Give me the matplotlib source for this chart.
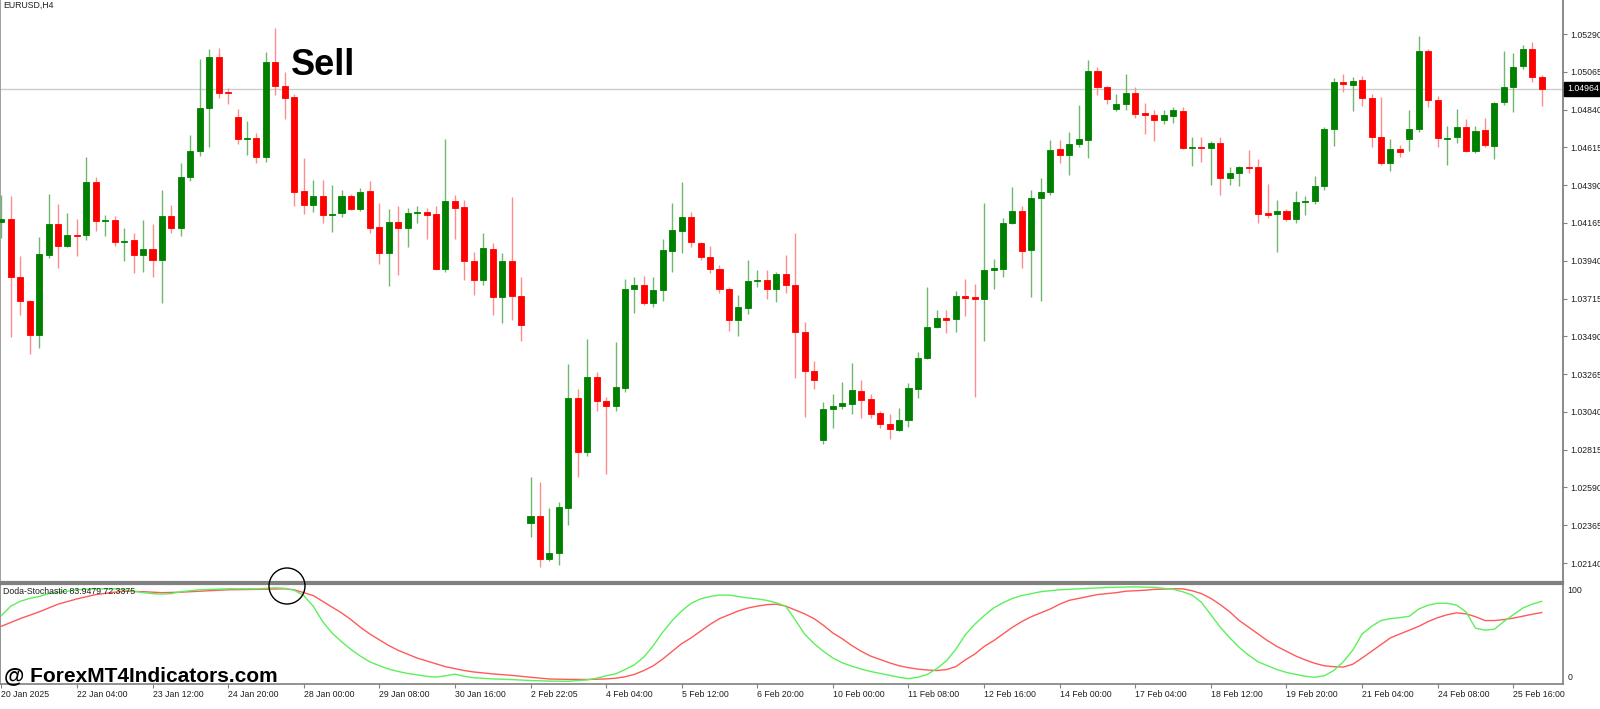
import matplotlib
matplotlib.use("Agg")
import matplotlib.pyplot as plt
import matplotlib.transforms as mtransforms
from matplotlib.patches import Ellipse
import numpy as np

plt.rcParams['font.family'] = ['Liberation Sans', 'DejaVu Sans']

chart_title = "EURUSD,H4"
indicator_title = "Doda-Stochastic 83.9479 72.3375"
sell_label = "Sell"
watermark = "@ ForexMT4Indicators.com"

# ---- H4 candles (prices) ----
open_ = [1.04170, 1.04188, 1.03842, 1.03700, 1.03497, 1.03973, 1.04158, 1.04027, 1.04093, 1.04093,
         1.04408, 1.04176, 1.04182, 1.04051, 1.04063, 1.03973, 1.04009, 1.03944, 1.04206, 1.04134,
         1.04438, 1.04593, 1.04849, 1.05153, 1.04944, 1.04795, 1.04664, 1.04670, 1.04557, 1.05123,
         1.04980, 1.04914, 1.04355, 1.04271, 1.04325, 1.04212, 1.04224, 1.04325, 1.04247, 1.04355,
         1.04140, 1.03985, 1.04170, 1.04134, 1.04224, 1.04230, 1.04218, 1.03890, 1.04295, 1.04259,
         1.03938, 1.03825, 1.04009, 1.03723, 1.03938, 1.03729, 1.02378, 1.02419, 1.02163, 1.02199,
         1.02467, 1.03122, 1.02800, 1.03247, 1.03104, 1.03074, 1.03181, 1.03771, 1.03795, 1.03688,
         1.03765, 1.03997, 1.04116, 1.04200, 1.04045, 1.03962, 1.03890, 1.03771, 1.03586, 1.03658,
         1.03819, 1.03825, 1.03771, 1.03860, 1.03795, 1.03515, 1.03283, 1.02872, 1.03056, 1.03074,
         1.03086, 1.03164, 1.03116, 1.03033, 1.02967, 1.02931, 1.02991, 1.03175, 1.03360, 1.03545,
         1.03598, 1.03592, 1.03729, 1.03723, 1.03711, 1.03884, 1.03890, 1.04164, 1.04235, 1.04003,
         1.04313, 1.04349, 1.04605, 1.04569, 1.04635, 1.04658, 1.05069, 1.04974, 1.04843, 1.04873,
         1.04938, 1.04819, 1.04807, 1.04777, 1.04801, 1.04831, 1.04611, 1.04617, 1.04611, 1.04640,
         1.04432, 1.04462, 1.04498, 1.04498, 1.04224, 1.04218, 1.04235, 1.04188, 1.04289, 1.04295,
         1.04384, 1.04724, 1.05004, 1.04986, 1.05016, 1.04908, 1.04676, 1.04521, 1.04605, 1.04664,
         1.04724, 1.05188, 1.04897, 1.04667, 1.04676, 1.04736, 1.04593, 1.04718, 1.04623, 1.04885,
         1.04974, 1.05099, 1.05200, 1.05033]
high = [1.04331, 1.04325, 1.03967, 1.03705, 1.04081, 1.04337, 1.04277, 1.04224, 1.04188, 1.04557,
        1.04438, 1.04212, 1.04206, 1.04134, 1.04105, 1.04182, 1.04158, 1.04361, 1.04271, 1.04521,
        1.04688, 1.05141, 1.05200, 1.05206, 1.04968, 1.04843, 1.04771, 1.04700, 1.05182, 1.05325,
        1.05063, 1.04932, 1.04551, 1.04420, 1.04420, 1.04390, 1.04361, 1.04337, 1.04373, 1.04414,
        1.04283, 1.04247, 1.04265, 1.04253, 1.04265, 1.04253, 1.04265, 1.04664, 1.04331, 1.04301,
        1.03991, 1.04105, 1.04045, 1.03985, 1.04319, 1.03842, 1.02652, 1.02622, 1.02467, 1.02503,
        1.03324, 1.03175, 1.03473, 1.03277, 1.03128, 1.03455, 1.03831, 1.03842, 1.03848, 1.03842,
        1.04069, 1.04283, 1.04408, 1.04230, 1.04051, 1.04027, 1.03914, 1.03783, 1.03735, 1.03944,
        1.03884, 1.03884, 1.03872, 1.03973, 1.04105, 1.03574, 1.03342, 1.03098, 1.03146, 1.03217,
        1.03330, 1.03229, 1.03146, 1.03044, 1.03027, 1.03062, 1.03211, 1.03396, 1.03783, 1.03646,
        1.03646, 1.03759, 1.03831, 1.03801, 1.04283, 1.03950, 1.04194, 1.04378, 1.04265, 1.04361,
        1.04432, 1.04658, 1.04658, 1.04706, 1.04867, 1.05135, 1.05093, 1.04980, 1.04932, 1.05051,
        1.04974, 1.04879, 1.04837, 1.04837, 1.04855, 1.04855, 1.04676, 1.04676, 1.04652, 1.04676,
        1.04498, 1.04504, 1.04599, 1.04545, 1.04396, 1.04301, 1.04247, 1.04355, 1.04325, 1.04444,
        1.04736, 1.05028, 1.05051, 1.05033, 1.05039, 1.04932, 1.04914, 1.04664, 1.04628, 1.04837,
        1.05278, 1.05200, 1.04920, 1.04742, 1.04843, 1.04783, 1.04742, 1.04789, 1.04885, 1.05188,
        1.05176, 1.05224, 1.05242, 1.05045]
low = [1.04075, 1.03485, 1.03616, 1.03384, 1.03420, 1.03956, 1.03896, 1.04021, 1.03967, 1.04063,
       1.04116, 1.04087, 1.04027, 1.03938, 1.03866, 1.03872, 1.03842, 1.03688, 1.04105, 1.04087,
       1.04414, 1.04563, 1.04617, 1.04908, 1.04873, 1.04635, 1.04569, 1.04521, 1.04527, 1.04926,
       1.04783, 1.04265, 1.04218, 1.04230, 1.04164, 1.04110, 1.04200, 1.04241, 1.04235, 1.04105,
       1.03920, 1.03789, 1.03854, 1.04021, 1.04164, 1.04069, 1.03884, 1.03872, 1.04069, 1.03825,
       1.03735, 1.03795, 1.03616, 1.03569, 1.03586, 1.03461, 1.02294, 1.02115, 1.02151, 1.02127,
       1.02366, 1.02652, 1.02776, 1.03044, 1.02669, 1.03044, 1.03158, 1.03628, 1.03676, 1.03664,
       1.03700, 1.03872, 1.03985, 1.04021, 1.03944, 1.03866, 1.03747, 1.03521, 1.03491, 1.03622,
       1.03783, 1.03711, 1.03694, 1.03747, 1.03241, 1.03009, 1.03175, 1.02848, 1.02943, 1.03056,
       1.03027, 1.03003, 1.03003, 1.02943, 1.02878, 1.02925, 1.02949, 1.03122, 1.03354, 1.03539,
       1.03509, 1.03515, 1.03610, 1.03128, 1.03461, 1.03771, 1.03842, 1.04158, 1.03896, 1.03723,
       1.03700, 1.04331, 1.04521, 1.04450, 1.04617, 1.04551, 1.04926, 1.04873, 1.04831, 1.04837,
       1.04789, 1.04694, 1.04652, 1.04754, 1.04760, 1.04605, 1.04504, 1.04527, 1.04390, 1.04331,
       1.04390, 1.04384, 1.04462, 1.04164, 1.04194, 1.03991, 1.04176, 1.04164, 1.04212, 1.04277,
       1.04361, 1.04623, 1.04944, 1.04831, 1.04861, 1.04617, 1.04509, 1.04474, 1.04557, 1.04593,
       1.04706, 1.04855, 1.04617, 1.04509, 1.04640, 1.04587, 1.04581, 1.04617, 1.04545, 1.04867,
       1.04825, 1.05081, 1.05004, 1.04861]
close = [1.04188, 1.03842, 1.03700, 1.03497, 1.03979, 1.04158, 1.04027, 1.04093, 1.04087, 1.04408,
         1.04176, 1.04182, 1.04051, 1.04057, 1.03973, 1.04009, 1.03944, 1.04206, 1.04134, 1.04438,
         1.04593, 1.04849, 1.05153, 1.04938, 1.04938, 1.04664, 1.04670, 1.04557, 1.05123, 1.04980,
         1.04908, 1.04349, 1.04271, 1.04325, 1.04212, 1.04218, 1.04325, 1.04247, 1.04349, 1.04134,
         1.03985, 1.04170, 1.04134, 1.04224, 1.04230, 1.04212, 1.03890, 1.04295, 1.04253, 1.03938,
         1.03825, 1.04015, 1.03723, 1.03938, 1.03729, 1.03557, 1.02419, 1.02163, 1.02199, 1.02473,
         1.03122, 1.02800, 1.03247, 1.03104, 1.03074, 1.03187, 1.03771, 1.03795, 1.03688, 1.03765,
         1.04003, 1.04122, 1.04200, 1.04051, 1.03962, 1.03890, 1.03771, 1.03586, 1.03664, 1.03819,
         1.03825, 1.03771, 1.03860, 1.03795, 1.03515, 1.03283, 1.03229, 1.03056, 1.03074, 1.03092,
         1.03170, 1.03110, 1.03027, 1.02967, 1.02937, 1.02991, 1.03181, 1.03360, 1.03545, 1.03598,
         1.03586, 1.03729, 1.03717, 1.03711, 1.03884, 1.03896, 1.04164, 1.04235, 1.03997, 1.04313,
         1.04349, 1.04599, 1.04569, 1.04635, 1.04664, 1.05069, 1.04974, 1.04902, 1.04873, 1.04938,
         1.04813, 1.04807, 1.04777, 1.04807, 1.04837, 1.04611, 1.04617, 1.04611, 1.04640, 1.04432,
         1.04462, 1.04498, 1.04492, 1.04218, 1.04212, 1.04235, 1.04188, 1.04289, 1.04295, 1.04384,
         1.04724, 1.05004, 1.04992, 1.05010, 1.04908, 1.04676, 1.04521, 1.04605, 1.04587, 1.04724,
         1.05188, 1.04897, 1.04670, 1.04672, 1.04736, 1.04593, 1.04712, 1.04628, 1.04879, 1.04974,
         1.05093, 1.05200, 1.05033, 1.04964]

current_price = 1.04964
price_ticks = [1.05290, 1.05065, 1.04840, 1.04615, 1.04390, 1.04165, 1.03940, 1.03715,
               1.03490, 1.03265, 1.03040, 1.02815, 1.02590, 1.02365, 1.02140]

date_label_bars = [0, 8, 16, 24, 32, 40, 48, 56, 64, 72, 80, 88, 96, 104, 112, 120, 128, 136, 144, 152, 160]
date_labels = ["20 Jan 2025", "22 Jan 04:00", "23 Jan 12:00", "24 Jan 20:00", "28 Jan 00:00",
               "29 Jan 08:00", "30 Jan 16:00", "2 Feb 22:05", "4 Feb 04:00", "5 Feb 12:00",
               "6 Feb 20:00", "10 Feb 00:00", "11 Feb 08:00", "12 Feb 16:00", "14 Feb 00:00",
               "17 Feb 04:00", "18 Feb 12:00", "19 Feb 20:00", "21 Feb 04:00", "24 Feb 08:00",
               "25 Feb 16:00"]

# ---- Doda-Stochastic (main = green, signal = red) ----
stoch_main_bars = [0, 1, 2, 3, 4, 5, 6, 7, 8, 10, 12, 13, 14, 15, 16, 17, 18, 19, 20, 21, 24, 27, 29,
                   30, 31, 32, 33, 34, 35, 36, 37, 38, 39, 40, 41, 42, 43, 44, 45, 46, 47, 48, 49, 50,
                   52, 54, 56, 58, 60, 62, 63, 64, 65, 66, 67, 68, 69, 70, 71, 72, 73, 74, 75, 76, 77,
                   78, 79, 80, 81, 82, 83, 84, 85, 86, 87, 88, 89, 90, 91, 92, 93, 94, 95, 96, 97, 98,
                   99, 100, 101, 102, 103, 104, 105, 106, 107, 108, 110, 112, 114, 117, 120, 122, 124,
                   125, 126, 127, 128, 129, 130, 131, 132, 133, 134, 135, 136, 137, 138, 139, 140, 141,
                   142, 143, 144, 145, 146, 147, 148, 149, 150, 151, 152, 153, 154, 155, 156, 157, 158,
                   159, 160, 161, 162, 163]
stoch_main = [69, 79, 84, 87, 89, 92, 93.5, 94.5, 96, 97, 97, 96, 94.5, 93, 92, 91.5, 92, 94, 95, 96, 97, 97, 98,
              97.5, 95.5, 90, 79, 63, 51, 42, 34, 27, 21, 17, 13.5, 11, 9, 7.5, 6, 5.2, 6.5, 8.2, 6, 4.5,
              3.3, 2.6, 1.6, 1, 0.8, 2.3, 4, 6.5, 8.5, 13, 18, 26, 38, 52, 64, 74, 82, 86.5, 89, 90.5, 90.5,
              89, 87.5, 86.5, 85, 82.5, 79, 65, 50, 40, 32, 25, 20, 16.5, 13.5, 11, 9, 7, 5, 3.6, 5, 8,
              14, 22, 34, 49, 60, 69, 77, 82.5, 87, 90, 94, 96, 97, 98.4, 99, 98.5, 96.5,
              94, 90.5, 83, 70, 57, 46, 36, 28, 21, 17, 13, 10, 8, 6, 5, 6.5, 12,
              21, 33, 50, 58, 64, 66, 67, 68.5, 76, 80, 82, 82, 80, 73, 56, 54, 55,
              63, 70, 77, 81, 83.95]
stoch_signal_bars = [0, 2, 4, 6, 8, 10, 12, 13, 15, 17, 19, 21, 24, 27, 30, 31, 32, 33, 34, 35, 36, 37, 38,
                     39, 40, 41, 42, 43, 44, 45, 46, 47, 48, 49, 50, 52, 54, 56, 58, 60, 62, 64, 65, 66,
                     67, 68, 69, 70, 71, 72, 73, 74, 75, 76, 77, 78, 79, 80, 81, 82, 83, 84, 85, 86, 87,
                     88, 89, 90, 91, 92, 93, 94, 95, 96, 97, 98, 99, 100, 101, 102, 103, 104, 105, 106,
                     107, 108, 109, 110, 111, 112, 113, 114, 115, 116, 118, 119, 121, 122, 124, 125, 126,
                     127, 128, 129, 130, 131, 132, 133, 134, 135, 136, 137, 138, 139, 140, 141, 142, 143,
                     144, 145, 146, 147, 148, 149, 150, 151, 152, 153, 154, 155, 156, 157, 158, 159, 160,
                     161, 162, 163]
stoch_signal = [58, 66, 73, 81, 86.5, 91, 93.5, 94.5, 94, 93, 93.5, 94.5, 96, 96.4, 97, 96, 93, 90, 84, 78, 72, 65, 57,
                50, 44, 38, 33, 29, 25, 22, 19, 16, 14, 12, 10.5, 8.5, 7, 5, 3.2, 2.8, 2.7, 3.3, 4, 5.5,
                8, 12, 17, 24, 32, 40, 46, 53, 60, 66, 70, 74, 77, 79, 80.5, 81, 79, 75, 71, 66, 59,
                51, 45, 38, 32, 27, 23.5, 20, 17, 15, 13.5, 12.5, 12, 13, 16, 23, 29, 37, 43, 50,
                57, 63, 68, 72, 76, 81, 85, 87, 89, 91, 93, 94.5, 95.5, 96.4, 97, 97, 95,
                92, 87, 80.5, 73, 64, 57, 50, 43, 37, 32, 27, 23, 19.5, 17, 16, 15.6, 18.5,
                25, 32, 39, 46, 50, 54, 58, 63, 67, 70, 72, 71, 68, 64, 64, 65, 66.5,
                68.5, 70.5, 72.34]

# ---------------- figure ----------------
W, H = 1600, 709
fig = plt.figure(figsize=(16, 7.09), dpi=100)
fig.patch.set_facecolor('white')

plot_right = 1563 / W
ax = fig.add_axes([0.0, 1 - 582 / H, plot_right, 582 / H])
ax2 = fig.add_axes([0.0, 1 - 684 / H, plot_right, 100 / H])

o = np.array(open_); h = np.array(high); l = np.array(low); c = np.array(close)
idx = np.arange(len(o))
up = c >= o
body_col = np.where(up, '#008000', '#ff0000')
wick_col = np.where(up, '#6fb86f', '#ff8c8c')

ax.vlines(idx, l, h, colors=wick_col, linewidth=1.0, zorder=2)
bottoms = np.minimum(o, c)
heights = np.maximum(np.abs(c - o), 0.00003)
ax.bar(idx, heights, bottom=bottoms, width=0.64, color=body_col, edgecolor=body_col,
       linewidth=0.6, zorder=3)

ax.axhline(current_price, color='#cccccc', lw=1.0, zorder=1)

xmin, xmax = -0.138, 165.26
ax.set_xlim(xmin, xmax)
ax.set_ylim(1.020269, 1.054925)
ax.set_xticks([])
ax.yaxis.tick_right()
ax.set_yticks(price_ticks)
ax.set_yticklabels([f"{p:.5f}" for p in price_ticks])
ax.tick_params(axis='y', direction='out', length=3, width=0.8, color='#808080',
               labelsize=6.3, pad=2, labelcolor='#202020')
ax.spines['top'].set_visible(False)
ax.spines['left'].set_color('#909090'); ax.spines['left'].set_linewidth(1.2)
ax.spines['right'].set_color('#808080'); ax.spines['right'].set_linewidth(1.3)
ax.spines['bottom'].set_color('#808080'); ax.spines['bottom'].set_linewidth(1.6)

trans = mtransforms.blended_transform_factory(ax.transAxes, ax.transData)
ax.text(1.0025, current_price, f"{current_price:.5f}", transform=trans, color='white',
        fontsize=6.3, va='center', ha='left', clip_on=False, zorder=10,
        bbox=dict(boxstyle='square,pad=0.28', fc='black', ec='black'))

ax.text(0.002, 0.998, chart_title, transform=ax.transAxes, va='top', ha='left',
        fontsize=6.3, color='#202020')

# ---- indicator ----
ax2.plot(stoch_signal_bars, stoch_signal, color='#ff5a5a', lw=1.0, zorder=2)
ax2.plot(stoch_main_bars, stoch_main, color='#5cf05c', lw=1.0, zorder=3)
ax2.set_xlim(xmin, xmax)
ax2.set_ylim(-2, 102)
ax2.set_yticks([])
ax2.set_xticks(date_label_bars)
ax2.set_xticklabels(date_labels)
for lbl in ax2.get_xticklabels():
    lbl.set_ha('left')
ax2.tick_params(axis='x', direction='out', length=3, width=0.8, color='#808080',
                labelsize=6.3, pad=1.5, labelcolor='#202020')
for s in ['left', 'right', 'bottom']:
    ax2.spines[s].set_color('#808080'); ax2.spines[s].set_linewidth(1.2)
ax2.spines['top'].set_color('#808080'); ax2.spines['top'].set_linewidth(1.6)
ax2.text(0.002, 0.97, indicator_title, transform=ax2.transAxes, va='top', ha='left',
         fontsize=6.3, color='#202020', zorder=5)
ax2.text(1.003, 100, "100", transform=mtransforms.blended_transform_factory(ax2.transAxes, ax2.transData),
         va='top', ha='left', fontsize=6.3, color='#202020', clip_on=False)
ax2.text(1.003, 0, "0", transform=mtransforms.blended_transform_factory(ax2.transAxes, ax2.transData),
         va='bottom', ha='left', fontsize=6.3, color='#202020', clip_on=False)

# ---- annotations ----
fig.text(291 / W, 1 - 75 / H, sell_label, fontsize=26, fontweight='bold', color='black',
         ha='left', va='baseline')
fig.text(4 / W, 1 - 681 / H, watermark, fontsize=15, fontweight='bold', color='black',
         ha='left', va='baseline')
fig.add_artist(Ellipse((287 / W, 1 - 586 / H), 36 / W, 36 / H, transform=fig.transFigure,
                       fill=False, ec='black', lw=1.0, zorder=20))

fig.savefig("out.png", dpi=100, facecolor='white')
